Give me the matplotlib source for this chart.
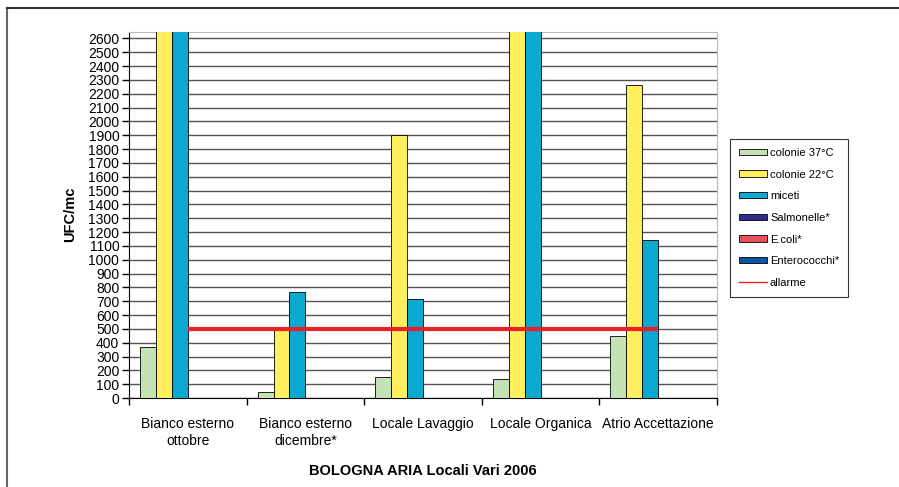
import numpy as np
import matplotlib
matplotlib.use("Agg")
import matplotlib.pyplot as plt
from matplotlib.patches import Patch
from matplotlib.lines import Line2D

plt.rcParams['font.family'] = ['Liberation Sans', 'DejaVu Sans']

categories = ["Bianco esterno\nottobre", "Bianco esterno\ndicembre*", "Locale Lavaggio",
              "Locale Organica", "Atrio Accettazione"]
series_names = ["colonie 37°C", "colonie 22°C", "miceti", "Salmonelle*", "E.coli*", "Enterococchi*"]
# values above 2650 run off the top of the scale in the original
colonie37 = [370, 40, 150, 135, 450]
colonie22 = [4000, 500, 1900, 4000, 2260]
miceti = [4000, 770, 715, 4000, 1140]
salmonelle = [0, 0, 0, 0, 0]
ecoli = [0, 0, 0, 0, 0]
enterococchi = [0, 0, 0, 0, 0]
allarme = [500, 500, 500, 500, 500]

series = [colonie37, colonie22, miceti, salmonelle, ecoli, enterococchi]
colors = ["#C4E2B4", "#FFEF5C", "#0BA8D2", "#2F2C8C", "#E8505B", "#0A56A0"]

fig = plt.figure(figsize=(8.99, 4.87), dpi=100)
fig.patch.set_facecolor("white")
ax = fig.add_axes([129 / 899, 1 - 398 / 487, (717 - 129) / 899, (398 - 31.5) / 487])

x = np.arange(len(categories))
w = 16 / 118
for j, (vals, c) in enumerate(zip(series, colors)):
    ax.bar(x + (j - 2.5) * w, vals, width=w, color=c, edgecolor="black", linewidth=0.6,
           zorder=3)

ax.plot(x, allarme, color="#E8202A", linewidth=3, zorder=4, solid_capstyle="butt")

ax.set_xlim(-0.5, len(categories) - 0.5)
ax.set_ylim(0, 2650)
ax.set_yticks(np.arange(0, 2601, 100))
ax.yaxis.grid(True, color="#555555", linewidth=1.0, zorder=0)
ax.set_axisbelow(True)
ax.tick_params(axis="y", labelsize=10, length=5, width=1, direction="out", pad=2)

ax.set_xticks(x)
ax.set_xticklabels(categories, fontsize=10)
ax.set_xticks(np.arange(-0.5, len(categories)), minor=True)
ax.tick_params(axis="x", which="major", length=0, pad=14)
ax.tick_params(axis="x", which="minor", length=5, width=1, direction="out")

ax.spines["left"].set_color("black")
ax.spines["bottom"].set_color("black")
ax.spines["top"].set_color("#BBBBBB")
ax.spines["right"].set_color("#BBBBBB")

ax.set_ylabel("UFC/mc", fontsize=10.5, fontweight="bold", labelpad=8)
ax.set_xlabel("BOLOGNA ARIA Locali Vari 2006", fontsize=10.5, fontweight="bold", labelpad=12)

handles = [Patch(facecolor=c, edgecolor="black", linewidth=0.6) for c in colors]
handles.append(Line2D([0], [0], color="#E8202A", linewidth=1))
labels = series_names + ["allarme"]
leg = fig.legend(handles, labels, loc="upper left", bbox_to_anchor=(730 / 899, 1 - 139 / 487),
                 borderaxespad=0, fontsize=8, frameon=True, fancybox=False, edgecolor="black",
                 handlelength=2.5, handleheight=0.5, labelspacing=1.05, borderpad=0.8,
                 handletextpad=0.3)
leg.get_frame().set_linewidth(0.8)

# outer frame of the original screenshot
fig.add_artist(Line2D([7 / 899, 7 / 899], [0, 1 - 8 / 487], color="#666666", linewidth=1.5))
fig.add_artist(Line2D([7 / 899, 1], [1 - 8 / 487, 1 - 8 / 487], color="#333333", linewidth=1.5))

fig.savefig("out.png", dpi=100)
